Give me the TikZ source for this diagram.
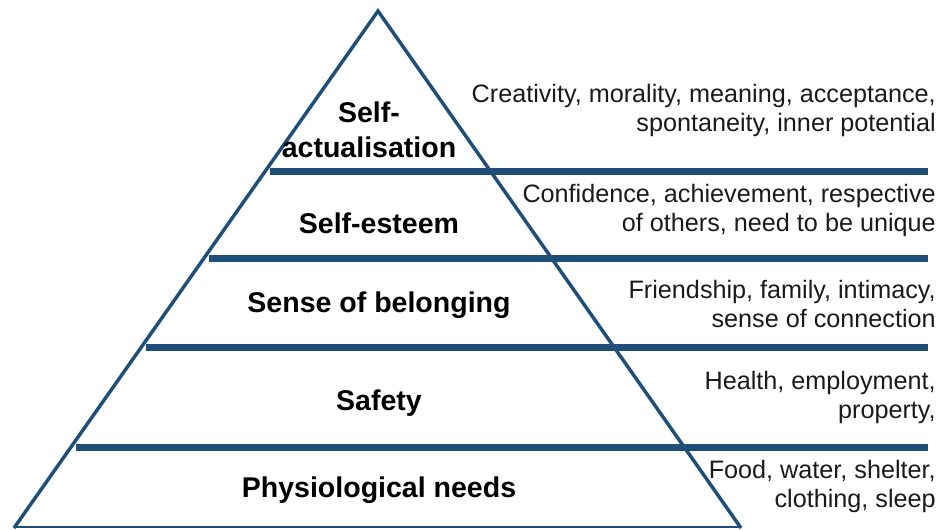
\documentclass[tikz,border=0pt]{standalone}
\usepackage{fontspec}
\setmainfont{Liberation Sans}
\usetikzlibrary{calc}
\definecolor{pyrblue}{RGB}{31,78,121}
\definecolor{notegray}{RGB}{26,26,26}
\tikzset{
	level/.style={font=\fontsize{21.4}{26.25}\selectfont\bfseries, align=center, text=black},
	needs/.style={font=\fontsize{18.9}{21.75}\selectfont, align=right, anchor=east, text=notegray, inner sep=0pt},
	bar/.style={line width=5.25pt, color=pyrblue},
}

\begin{document}
\begin{tikzpicture}[x=0.75pt, y=-0.75pt]
			%%%%% START %%%%%
			\useasboundingbox (0, 0) rectangle (940, 529);
			
			\coordinate (apex) at (378, 11);
			\coordinate (bl) at (14, 528);
			\coordinate (br) at (741, 528);
			
			% level bars
			\draw[bar] (270, 171.5) -- (928, 171.5);
			\draw[bar] (209, 258.5) -- (928, 258.5);
			\draw[bar] (146, 347) -- (928, 347);
			\draw[bar] (76, 447) -- (928, 447);
			
			% pyramid
			\draw[line width=2.6pt, color=pyrblue, line join=miter] (bl) -- (apex) -- (br);
			\draw[line width=1.1pt, color=pyrblue] ($(bl)+(0,-0.8)$) -- ($(br)+(0,-0.8)$);
			
			% level names
			\node[level] (self) at (369, 130) {Self-\\actualisation};
			\node[level] (esteem) at (379, 223) {Self-esteem};
			\node[level] (belong) at (379, 305) {Sense of belonging};
			\node[level] (safety) at (379, 403) {Safety};
			\node[level] (physio) at (379, 490) {Physiological needs};
			
			% needs per level
			\node[needs] (selfn) at (936, 110) {Creativity, morality, meaning, acceptance,\\spontaneity, inner potential};
			\node[needs] (esteemn) at (936, 210) {Confidence, achievement, respective\\of others, need to be unique};
			\node[needs] (belongn) at (936, 304) {Friendship, family, intimacy,\\sense of connection};
			\node[needs] (safetyn) at (936, 397) {Health, employment,\\property,};
			\node[needs] (physion) at (936, 486) {Food, water, shelter,\\clothing, sleep};
			
			%%%%% END %%%%%
\end{tikzpicture}
\end{document}
